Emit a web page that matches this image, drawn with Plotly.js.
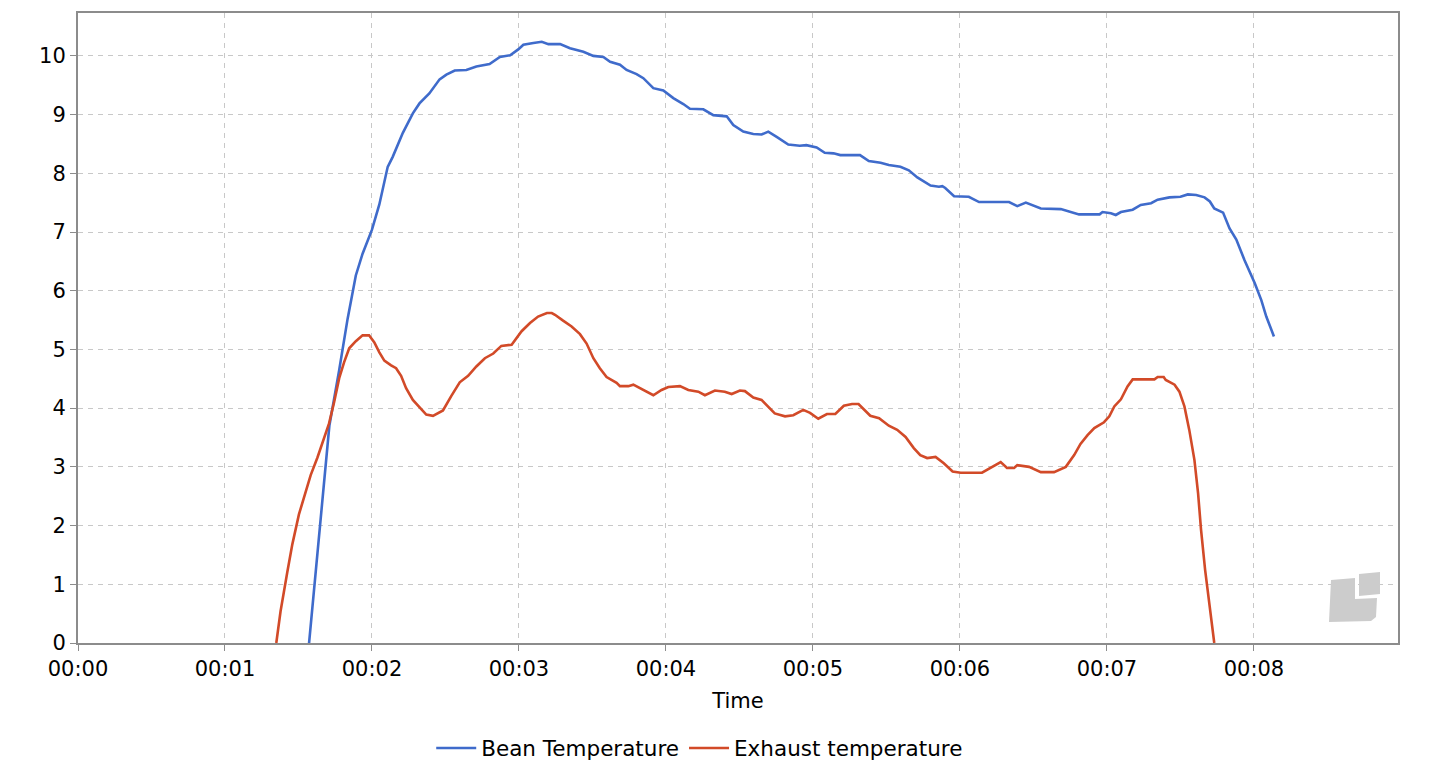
<!DOCTYPE html>
<html>
<head>
<meta charset="utf-8">
<script src="https://cdn.plot.ly/plotly-3.0.1.min.js"></script>
<style>
  html, body { margin: 0; padding: 0; background: #fff; }
  #chart { width: 1434px; height: 782px; }
</style>
</head>
<body>
<div id="chart"></div>
<script>
// time in minutes
var beanTime = [1.572, 1.64, 1.71, 1.777, 1.834, 1.89, 1.936, 2.0, 2.05, 2.107, 2.141, 2.21, 2.278, 2.323, 2.39,
  2.46, 2.506, 2.563, 2.642, 2.71, 2.80, 2.87, 2.94, 2.995, 3.03, 3.098, 3.155, 3.20, 3.28, 3.347, 3.438,
  3.506, 3.574, 3.62, 3.687, 3.732, 3.80, 3.846, 3.914, 3.982, 4.05, 4.118, 4.163, 4.254, 4.322, 4.413,
  4.458, 4.526, 4.594, 4.65, 4.696, 4.753, 4.832, 4.91, 4.955, 5.025, 5.08, 5.14, 5.186, 5.32, 5.38,
  5.46, 5.516, 5.595, 5.652, 5.71, 5.80, 5.857, 5.88, 5.90, 5.96, 6.06, 6.13, 6.334, 6.39, 6.448, 6.55,
  6.686, 6.81, 6.95, 6.97, 7.027, 7.06, 7.095, 7.175, 7.23, 7.30, 7.345, 7.425, 7.50, 7.55, 7.607,
  7.664, 7.70, 7.73, 7.79, 7.834, 7.88, 7.936, 8.005, 8.05, 8.084, 8.107, 8.136];
var beanTemp = [0, 1.82, 3.70, 4.65, 5.52, 6.26, 6.63, 7.04, 7.47, 8.11, 8.28, 8.69, 9.02, 9.19, 9.36,
  9.60, 9.68, 9.75, 9.76, 9.82, 9.86, 9.98, 10.01, 10.11, 10.19, 10.22, 10.24, 10.2, 10.2, 10.13, 10.07,
  10.0, 9.98, 9.90, 9.85, 9.76, 9.69, 9.62, 9.45, 9.41, 9.28, 9.18, 9.10, 9.09, 8.99, 8.97,
  8.82, 8.71, 8.67, 8.66, 8.71, 8.62, 8.49, 8.47, 8.48, 8.44, 8.35, 8.34, 8.31, 8.31, 8.21,
  8.18, 8.14, 8.11, 8.05, 7.93, 7.79, 7.77, 7.78, 7.75, 7.61, 7.60, 7.51, 7.51, 7.44, 7.50, 7.40,
  7.39, 7.30, 7.30, 7.34, 7.32, 7.29, 7.34, 7.38, 7.46, 7.49, 7.55, 7.59, 7.60, 7.64, 7.63,
  7.59, 7.52, 7.40, 7.33, 7.06, 6.87, 6.52, 6.13, 5.84, 5.56, 5.42, 5.22];

var exhaustTime = [1.349, 1.378, 1.424, 1.458, 1.503, 1.549, 1.583, 1.629, 1.674, 1.708, 1.743, 1.777, 1.81,
  1.845, 1.89, 1.936, 1.98, 2.016, 2.05, 2.084, 2.13, 2.164, 2.198, 2.232, 2.278, 2.323, 2.369, 2.415,
  2.483, 2.54, 2.597, 2.654, 2.71, 2.768, 2.825, 2.88, 2.95, 3.018, 3.075, 3.13, 3.19, 3.223, 3.245,
  3.30, 3.358, 3.415, 3.46, 3.506, 3.55, 3.596, 3.664, 3.687, 3.744, 3.778, 3.834, 3.914, 3.97, 4.016,
  4.095, 4.152, 4.22, 4.265, 4.333, 4.40, 4.447, 4.503, 4.537, 4.594, 4.65, 4.696, 4.74, 4.81, 4.866,
  4.934, 4.98, 5.036, 5.095, 5.152, 5.21, 5.266, 5.31, 5.39, 5.45, 5.516, 5.573, 5.63, 5.686, 5.73,
  5.777, 5.834, 5.89, 5.95, 6.005, 6.15, 6.21, 6.277, 6.32, 6.368, 6.39, 6.47, 6.55, 6.64, 6.72, 6.777,
  6.82, 6.868, 6.914, 6.98, 7.016, 7.05, 7.095, 7.14, 7.175, 7.323, 7.345, 7.386, 7.40, 7.46, 7.493,
  7.527, 7.56, 7.595, 7.62, 7.64, 7.668, 7.70, 7.73];
var exhaustTemp = [0, 0.54, 1.21, 1.68, 2.19, 2.56, 2.86, 3.16, 3.47, 3.74, 4.11, 4.51, 4.78,
  5.02, 5.14, 5.24, 5.24, 5.12, 4.95, 4.81, 4.73, 4.68, 4.55, 4.34, 4.14, 4.01, 3.89, 3.87,
  3.96, 4.21, 4.44, 4.55, 4.71, 4.85, 4.93, 5.06, 5.08, 5.31, 5.45, 5.56, 5.62, 5.62, 5.59,
  5.49, 5.39, 5.26, 5.10, 4.85, 4.68, 4.53, 4.43, 4.375, 4.375, 4.40, 4.32, 4.22, 4.31, 4.36,
  4.375, 4.31, 4.28, 4.22, 4.30, 4.28, 4.24, 4.30, 4.29, 4.18, 4.14, 4.02, 3.91, 3.86, 3.88,
  3.97, 3.92, 3.82, 3.90, 3.90, 4.04, 4.07, 4.07, 3.87, 3.83, 3.70, 3.63, 3.51, 3.32, 3.20,
  3.15, 3.17, 3.06, 2.92, 2.90, 2.90, 2.99, 3.08, 2.98, 2.98, 3.03, 3.00, 2.91, 2.91, 3.00, 3.20,
  3.39, 3.54, 3.66, 3.76, 3.86, 4.03, 4.15, 4.37, 4.49, 4.49, 4.53, 4.53, 4.48, 4.40, 4.28,
  4.03, 3.63, 3.12, 2.55, 1.93, 1.24, 0.56, 0];

var tickMinutes = [0, 1, 2, 3, 4, 5, 6, 7, 8];
var tickLabels = ['00:00', '00:01', '00:02', '00:03', '00:04', '00:05', '00:06', '00:07', '00:08'];
var seriesNames = ['Bean Temperature', 'Exhaust temperature'];

var traceBean = {
  x: beanTime,
  y: beanTemp,
  name: seriesNames[0],
  mode: 'lines',
  type: 'scatter',
  line: { color: '#3f6bcb', width: 2.6 }
};

var traceExhaust = {
  x: exhaustTime,
  y: exhaustTemp,
  name: seriesNames[1],
  mode: 'lines',
  type: 'scatter',
  line: { color: '#d24a28', width: 2.6 }
};

// grey logo in the lower right corner (paper coords)
function px2paperX(p) { return (p - 78) / 1320; }
function px2paperY(p) { return (643 - p) / 630; }

var layout = {
  width: 1434,
  height: 782,
  paper_bgcolor: '#fff',
  plot_bgcolor: '#fff',
  font: { family: 'DejaVu Sans, sans-serif', size: 21, color: '#000' },
  margin: { l: 78, r: 36, t: 13, b: 139 },
  showlegend: true,
  legend: {
    orientation: 'h',
    x: 0.471, xanchor: 'center',
    y: -0.1667, yanchor: 'middle',
    font: { size: 21.5 },
    itemwidth: 40
  },
  xaxis: {
    range: [0, 8.98],
    tickvals: tickMinutes,
    ticktext: tickLabels,
    showgrid: true,
    gridcolor: '#c8c8c8',
    griddash: '5px,5px',
    gridwidth: 1,
    showline: true,
    linecolor: '#8c8c8c',
    linewidth: 2,
    mirror: true,
    ticks: 'outside',
    ticklen: 6,
    tickcolor: '#8c8c8c',
    zeroline: false,
    title: { text: 'Time', font: { size: 21 }, standoff: 13 }
  },
  yaxis: {
    range: [0, 10.73],
    dtick: 1,
    showgrid: true,
    gridcolor: '#c8c8c8',
    griddash: '5px,5px',
    gridwidth: 1,
    showline: true,
    linecolor: '#8c8c8c',
    linewidth: 2,
    mirror: true,
    ticks: 'outside',
    ticklen: 6,
    tickcolor: '#8c8c8c',
    zeroline: false
  },
  shapes: [
    {
      type: 'path', xref: 'paper', yref: 'paper', layer: 'above',
      path: 'M ' + px2paperX(1331) + ' ' + px2paperY(580) +
            ' L ' + px2paperX(1355) + ' ' + px2paperY(578) +
            ' L ' + px2paperX(1355) + ' ' + px2paperY(599) +
            ' L ' + px2paperX(1377) + ' ' + px2paperY(598) +
            ' L ' + px2paperX(1376) + ' ' + px2paperY(617) +
            ' L ' + px2paperX(1371) + ' ' + px2paperY(621) +
            ' L ' + px2paperX(1329) + ' ' + px2paperY(622) + ' Z',
      fillcolor: '#cccccc', line: { width: 0 }
    },
    {
      type: 'path', xref: 'paper', yref: 'paper', layer: 'above',
      path: 'M ' + px2paperX(1359) + ' ' + px2paperY(574) +
            ' L ' + px2paperX(1380) + ' ' + px2paperY(572) +
            ' L ' + px2paperX(1380) + ' ' + px2paperY(594) +
            ' L ' + px2paperX(1359) + ' ' + px2paperY(596) + ' Z',
      fillcolor: '#cccccc', line: { width: 0 }
    }
  ]
};

Plotly.newPlot('chart', [traceBean, traceExhaust], layout, { displayModeBar: false, staticPlot: true });
</script>
</body>
</html>
